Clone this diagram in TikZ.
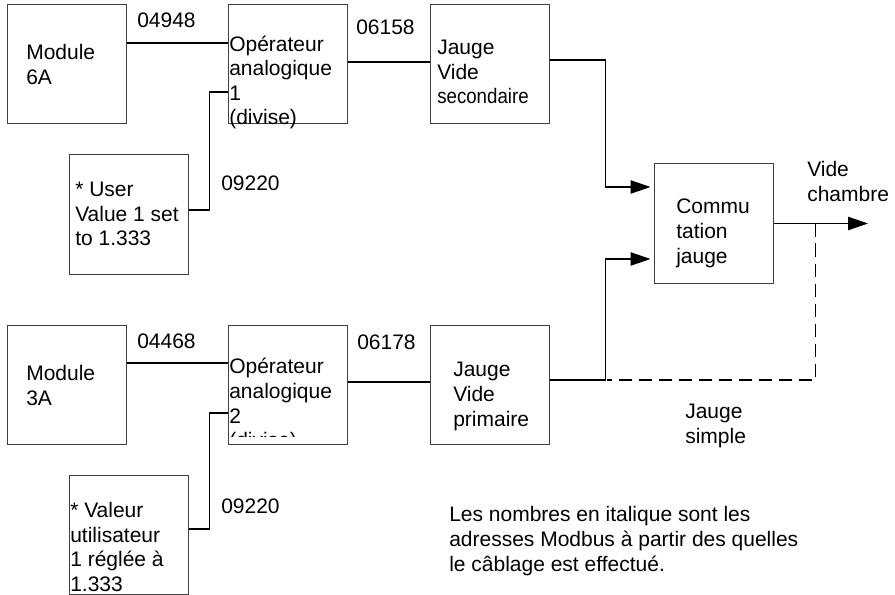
\documentclass[tikz,border=0pt]{standalone}
\usepackage{fontspec}
\setmainfont{Liberation Sans}
\usepackage{graphicx}
\usetikzlibrary{arrows.meta,calc}

\tikzset{
  blk/.style={draw=black!75, line width=0.75pt, minimum width=89.25pt, minimum height=89.25pt, inner sep=0pt},
  txt/.style={anchor=base west, align=left, inner sep=0pt, font=\fontsize{15.75pt}{18.4pt}\selectfont},
  wire/.style={line width=1.1pt},
  sig/.style={wire, -{Triangle[length=15pt,width=10pt]}},
  bypass/.style={line width=1.3pt, dash pattern=on 10pt off 5pt},
}

\begin{document}
\begin{tikzpicture}[x=0.75pt, y=-0.75pt]
  % unit = one pixel of the 895 x 595 sheet; y runs DOWN the page
  % a text node sits on the baseline of its LAST line
  \useasboundingbox (0,0) rectangle (895,595);
  % ---------------------------------------------------------------- the blocks
  \node[blk] (m6a)   at (66.5,64.5)   {};
  \node[blk] (op1)   at (287.5,64.5)  {};
  \node[blk] (jsec)  at (489.5,64.5)  {};
  \node[blk] (uv1)   at (128.5,214.5) {};
  \node[blk] (comm)  at (713.5,223.5) {};
  \node[blk] (m3a)   at (66.5,384.5)  {};
  \node[blk] (op2)   at (287.5,384.5) {};
  \node[blk] (jprim) at (489.5,384.5) {};
  \node[blk] (uv2)   at (128.5,534.5) {};
  % texts in the blocks (left aligned, as typed in the boxes)
  \node[txt] (m6a-t)   at (26,84.5)  {Module\\6A};
  \node[txt] (op1-t)   at (229,125)  {Opérateur\\analogique\\1\\(divise)};
  \node[txt] (jsec-t)  at (437,104)  {Jauge\\Vide\\\scalebox{0.89}[1]{secondaire}};
  \node[txt] (uv1-t)   at (75,246)   {* User\\Value 1 set\\to 1.333};
  \node[txt] (comm-t)  at (676,263)  {Commu\\tation\\jauge};
  \node[txt] (m3a-t)   at (26,405.5) {Module\\3A};
  \node[txt] (op2-t)   at (229,423)  {Opérateur\\analogique\\2};
  \begin{scope}
    % the last line of this box is cut off
    \clip (228,426) rectangle (347,436);
    \node[txt] (op2-c) at (229,447.5) {(divise)};
  \end{scope}
  \node[txt] (jprim-t) at (453,426)  {Jauge\\Vide\\primaire};
  \node[txt] (uv2-t)   at (70,591.5) {* Valeur\\utilisateur\\1 réglée à\\1.333};
  % ---------------------------------------------------------------- the wiring
  \draw[wire] ($(m6a.east)+(0,-21.5)$) -- ($(op1.west)+(0,-21.5)$);
  \draw[wire] ($(op1.east)+(0,-2.5)$) -- ($(jsec.west)+(0,-2.5)$);
  \draw[wire] ($(uv1.east)+(0,-4.5)$) -| ($(op1.west)+(-18,27.5)$) -- ($(op1.west)+(0,27.5)$);
  \draw[wire] ($(m3a.east)+(0,-21.5)$) -- ($(op2.west)+(0,-21.5)$);
  \draw[wire] ($(op2.east)+(0,-2.5)$) -- ($(jprim.west)+(0,-2.5)$);
  \draw[wire] ($(uv2.east)+(0,-5.5)$) -| ($(op2.west)+(-18,28.5)$) -- ($(op2.west)+(0,28.5)$);
  % the two gauges into the switch
  \draw[sig] ($(jsec.east)+(0,-4.5)$) -| ($(comm.west)+(-48,-36.5)$) -- ($(comm.west)+(-3,-36.5)$);
  \draw[sig] ($(jprim.east)+(0,-4.5)$) -| ($(comm.west)+(-48,35.5)$) -- ($(comm.west)+(-3,35.5)$);
  % the output, and the bypass for a single gauge
  \coordinate (out) at (868,223.5);
  \coordinate (tap) at ($(comm.east)+(42,0)$);
  \coordinate (jn)  at ($(jprim.east)+(57,-4.5)$);
  \draw[sig] (comm.east) -- (out);
  \draw[bypass] (tap) |- (jn);
  % ---------------------------------------------------------------- labels
  \node[txt] (a1) at (137,28)  {04948};
  \node[txt] (a2) at (356,35)  {06158};
  \node[txt] (a3) at (221,191) {09220};
  \node[txt] (a4) at (137,348) {04468};
  \node[txt] (a5) at (357,349) {06178};
  \node[txt] (a6) at (221,513) {09220};
  \node[txt] (vc) at (807,201.5) {Vide\\chambre};
  \node[txt] (js) at (685,443.5) {Jauge\\simple};
  \node[txt] (nb) at (449,571) {Les nombres en italique sont les\\adresses Modbus à partir des quelles\\le câblage est effectué.};
\end{tikzpicture}
\end{document}
